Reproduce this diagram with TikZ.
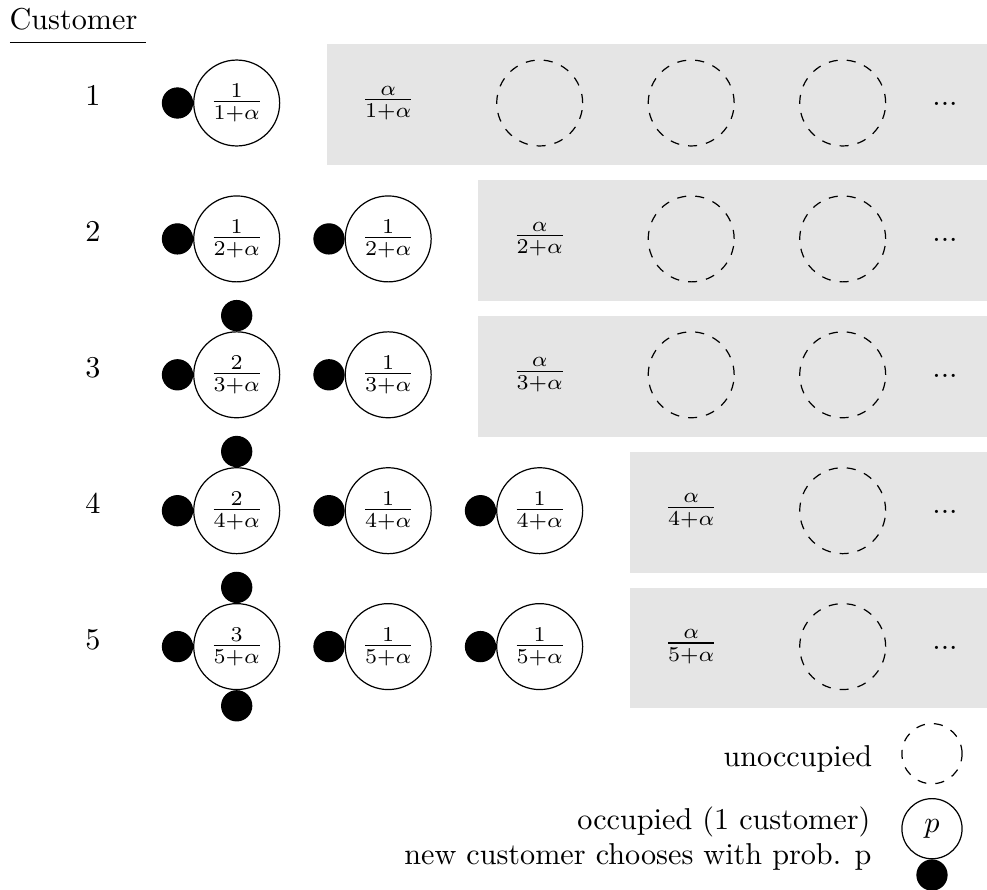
\documentclass[tikz,border=0pt]{standalone}
\usetikzlibrary{positioning}
\begin{document}
\begin{tikzpicture}[x=0.3311pt,y=-0.3311pt,
  seat/.style={circle,draw,line width=0.4pt,minimum size=1cm,inner sep=0pt},
  freeseat/.style={seat,dashed},
  guest/.style={circle,draw,fill=black,minimum size=0.35cm,inner sep=0pt},
  newtables/.style={fill=gray!20,draw=none},
  rowlabel/.style={anchor=base,inner sep=0pt},
  legendtext/.style={anchor=base east,inner sep=0pt}]
\useasboundingbox (0,0) rectangle (987,890);

% shaded regions holding the tables that are still empty
\fill[newtables] (326.7,44.2)  rectangle (987,164.8);
\fill[newtables] (477.7,180.1) rectangle (987,300.7);
\fill[newtables] (477.7,316.0) rectangle (987,436.6);
\fill[newtables] (629.7,451.9) rectangle (987,572.5);
\fill[newtables] (629.7,587.8) rectangle (987,708.4);

% header
\node[anchor=base west,inner sep=0pt] (head) at (9,29.3) {Customer};
\draw (head.base west) ++(1,13.4) coordinate (ulA) -- ++(135.7,0) coordinate (ulB);

% customer 1
\node[rowlabel] (n1) at (93,105.5) {1};
\node[seat] (t11) at (236.7,103) {$\frac{1}{1+\alpha}$};
\node[guest,left=0pt of t11] (g11) {};
\node (a1) at (388.2,103) {$\frac{\alpha}{1+\alpha}$};
\node[freeseat] (e12) at (539.7,103) {};
\node[freeseat] (e13) at (691.2,103) {};
\node[freeseat] (e14) at (842.7,103) {};
\node[inner sep=0pt] (d1) at (945,104) {...};

% customer 2
\node[rowlabel] (n2) at (93,241.4) {2};
\node[seat] (t21) at (236.7,238.9) {$\frac{1}{2+\alpha}$};
\node[guest,left=0pt of t21] (g21) {};
\node[seat] (t22) at (388.2,238.9) {$\frac{1}{2+\alpha}$};
\node[guest,left=0pt of t22] (g22) {};
\node (a2) at (539.7,238.9) {$\frac{\alpha}{2+\alpha}$};
\node[freeseat] (e23) at (691.2,238.9) {};
\node[freeseat] (e24) at (842.7,238.9) {};
\node[inner sep=0pt] (d2) at (945,239.9) {...};

% customer 3
\node[rowlabel] (n3) at (93,377.3) {3};
\node[seat] (t31) at (236.7,374.8) {$\frac{2}{3+\alpha}$};
\node[guest,left=0pt of t31] (g31) {};
\node[guest,above=0pt of t31] (g31b) {};
\node[seat] (t32) at (388.2,374.8) {$\frac{1}{3+\alpha}$};
\node[guest,left=0pt of t32] (g32) {};
\node (a3) at (539.7,374.8) {$\frac{\alpha}{3+\alpha}$};
\node[freeseat] (e33) at (691.2,374.8) {};
\node[freeseat] (e34) at (842.7,374.8) {};
\node[inner sep=0pt] (d3) at (945,375.8) {...};

% customer 4
\node[rowlabel] (n4) at (93,513.2) {4};
\node[seat] (t41) at (236.7,510.7) {$\frac{2}{4+\alpha}$};
\node[guest,left=0pt of t41] (g41) {};
\node[guest,above=0pt of t41] (g41b) {};
\node[seat] (t42) at (388.2,510.7) {$\frac{1}{4+\alpha}$};
\node[guest,left=0pt of t42] (g42) {};
\node[seat] (t43) at (539.7,510.7) {$\frac{1}{4+\alpha}$};
\node[guest,left=0pt of t43] (g43) {};
\node (a4) at (691.2,510.7) {$\frac{\alpha}{4+\alpha}$};
\node[freeseat] (e44) at (842.7,510.7) {};
\node[inner sep=0pt] (d4) at (945,511.7) {...};

% customer 5
\node[rowlabel] (n5) at (93,649.1) {5};
\node[seat] (t51) at (236.7,646.6) {$\frac{3}{5+\alpha}$};
\node[guest,left=0pt of t51] (g51) {};
\node[guest,above=0pt of t51] (g51b) {};
\node[guest,below=0pt of t51] (g51c) {};
\node[seat] (t52) at (388.2,646.6) {$\frac{1}{5+\alpha}$};
\node[guest,left=0pt of t52] (g52) {};
\node[seat] (t53) at (539.7,646.6) {$\frac{1}{5+\alpha}$};
\node[guest,left=0pt of t53] (g53) {};
\node (a5) at (691.2,646.6) {$\frac{\alpha}{5+\alpha}$};
\node[freeseat] (e54) at (842.7,646.6) {};
\node[inner sep=0pt] (d5) at (945,647.6) {...};

% legend
\node[freeseat,minimum size=0.7cm] (lfree) at (932,753.7) {};
\node[legendtext] (lfreetxt) at (872.7,766.5) {unoccupied};
\node[seat,minimum size=0.7cm] (lp) at (932,828.7) {$p$};
\node[guest,below=0pt of lp] (lpguest) {};
\node[legendtext] (lptxtA) at (871,829.5) {occupied (1 customer)};
\node[legendtext] (lptxtB) at (872,864) {new customer chooses with prob. p};
\end{tikzpicture}
\end{document}
